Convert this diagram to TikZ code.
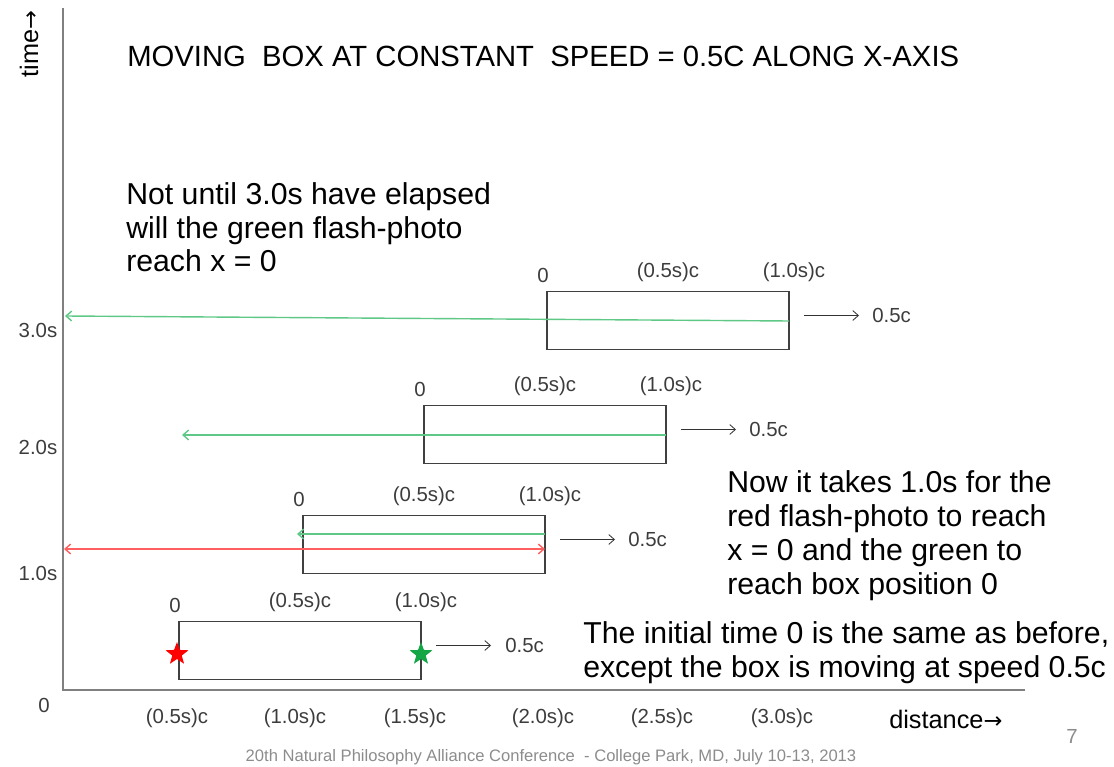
\documentclass[tikz,border=0pt]{standalone}
\usepackage{fontspec}
\setmainfont{Liberation Sans}
\newfontfamily\arrowfont{DejaVu Sans}
\usetikzlibrary{arrows.meta,shapes.geometric}
\definecolor{glight}{RGB}{95,200,135}
\definecolor{rlight}{RGB}{255,95,95}
\definecolor{gstar}{RGB}{20,165,70}
\definecolor{lbl}{RGB}{60,60,60}
\begin{document}
\begin{tikzpicture}[x=0.025cm,y=-0.025cm,
  movbox/.style={draw=black!75,line width=0.9pt,minimum width=6.05cm,minimum height=1.45cm,inner sep=0pt},
  small/.style={font=\fontsize{14.5pt}{16pt}\selectfont,text=lbl,inner sep=0pt},
  body/.style={font=\fontsize{21.5pt}{24.1pt}\selectfont,align=left,inner sep=0pt,anchor=base west},
  speedarrow/.style={draw=black!80,line width=0.6pt,-{Straight Barb[length=4pt,width=7pt]}},
  gline/.style={draw=glight,line width=1pt},
  rline/.style={draw=rlight,line width=1pt},
  axisline/.style={draw=black!50,line width=1.3pt},
  starmark/.style={star,star points=5,star point ratio=2.4,minimum size=0.6cm,inner sep=0pt,draw=none}]
\useasboundingbox (0,0) rectangle (1114,767);
% axes
\coordinate (O) at (63,690);
\coordinate (ytop) at (63,8);
\coordinate (xend) at (1025,690);
\draw[axisline] (ytop) -- (O) -- (xend);
\node[rotate=90,font=\fontsize{18pt}{20pt}\selectfont,inner sep=0pt] (tlab) at (29,44) {time{\arrowfont\fontsize{16pt}{18pt}\selectfont →}};
\node[font=\fontsize{18pt}{20pt}\selectfont,inner sep=0pt,anchor=west] (dlab) at (889,719) {distance{\arrowfont\fontsize{16pt}{18pt}\selectfont →}};
% title and texts
\node[font=\fontsize{20.8pt}{23pt}\selectfont,inner sep=0pt,anchor=base west] (title) at (127,67) {MOVING~ BOX AT CONSTANT~ SPEED = 0.5C ALONG X-AXIS};
\node[body] (t1) at (126,272) {Not until 3.0s have elapsed\\will the green flash-photo\\reach x = 0};
\node[body] (t2) at (727,594) {Now it takes 1.0s for the\\red flash-photo to reach\\x = 0 and the green to\\reach box position 0};
\node[body] (t3) at (583,677) {The initial time 0 is the same as before,\\except the box is moving at speed 0.5c};
% tick labels
\node[small] (y3) at (38,330) {3.0s};
\node[small] (y2) at (38,447) {2.0s};
\node[small] (y1) at (38,573) {1.0s};
\node[small] (y0) at (44,705) {0};
\node[small] (x1) at (177,718) {(0.5s)c};
\node[small] (x2) at (295,718) {(1.0s)c};
\node[small] (x3) at (415,718) {(1.5s)c};
\node[small] (x4) at (543,718) {(2.0s)c};
\node[small] (x5) at (662,718) {(2.5s)c};
\node[small] (x6) at (782,718) {(3.0s)c};
\node[small,text=black!45] (pg) at (1072,736) {7};
\node[font=\fontsize{11.8pt}{13pt}\selectfont,text=black!45,inner sep=0pt] (foot) at (551,757) {20th Natural Philosophy Alliance Conference~ - College Park, MD, July 10-13, 2013};
% boxes
\node[movbox] (b0) at (300,650.5) {};
\node[movbox] (b1) at (424,544.5) {};
\node[movbox] (b2) at (545,434.5) {};
\node[movbox] (b3) at (668,320.5) {};
% box labels
\node[small,anchor=base] (b0l0) at (175,612.5) {0};
\node[small,anchor=base] (b0l1) at (300,607.5) {(0.5s)c};
\node[small,anchor=base] (b0l2) at (426,607.5) {(1.0s)c};
\node[small,anchor=base] (b1l0) at (299,506.5) {0};
\node[small,anchor=base] (b1l1) at (424,501.5) {(0.5s)c};
\node[small,anchor=base] (b1l2) at (550,501.5) {(1.0s)c};
\node[small,anchor=base] (b2l0) at (420,396.5) {0};
\node[small,anchor=base] (b2l1) at (545,391.5) {(0.5s)c};
\node[small,anchor=base] (b2l2) at (671,391.5) {(1.0s)c};
\node[small,anchor=base] (b3l0) at (543,282.5) {0};
\node[small,anchor=base] (b3l1) at (668,277.5) {(0.5s)c};
\node[small,anchor=base] (b3l2) at (794,277.5) {(1.0s)c};
% speed arrows
\coordinate (s0a) at (436,645.5); \coordinate (s0b) at (491,645.5);
\node[small,anchor=west] (v0) at (505,645.5) {0.5c};
\draw[speedarrow] (s0a) -- (s0b);
\coordinate (s1a) at (560,539.5); \coordinate (s1b) at (615,539.5);
\node[small,anchor=west] (v1) at (628,539.5) {0.5c};
\draw[speedarrow] (s1a) -- (s1b);
\coordinate (s2a) at (681,429.5); \coordinate (s2b) at (736,429.5);
\node[small,anchor=west] (v2) at (749,429.5) {0.5c};
\draw[speedarrow] (s2a) -- (s2b);
\coordinate (s3a) at (804,315.5); \coordinate (s3b) at (859,315.5);
\node[small,anchor=west] (v3) at (872,315.5) {0.5c};
\draw[speedarrow] (s3a) -- (s3b);
% light signals
\coordinate (g1a) at (545,534); \coordinate (g1b) at (297,534);
\draw[gline,-{Straight Barb[length=4pt,width=7pt]}] (g1a) -- (g1b);
\coordinate (r1a) at (64,549); \coordinate (r1b) at (545,549);
\draw[rline,{Straight Barb[length=4pt,width=7pt]}-{Straight Barb[length=4pt,width=7pt]}] (r1a) -- (r1b);
\coordinate (g2a) at (666,435); \coordinate (g2b) at (182,435);
\draw[gline,-{Straight Barb[length=4pt,width=7pt]}] (g2a) -- (g2b);
\coordinate (g3a) at (789,321); \coordinate (g3b) at (65,316);
\draw[gline,-{Straight Barb[length=4pt,width=7pt]}] (g3a) -- (g3b);
% flashes
\node[starmark,fill=red] (rs) at (177,654) {};
\node[starmark,fill=gstar] (gs) at (421,654) {};
\end{tikzpicture}
\end{document}
